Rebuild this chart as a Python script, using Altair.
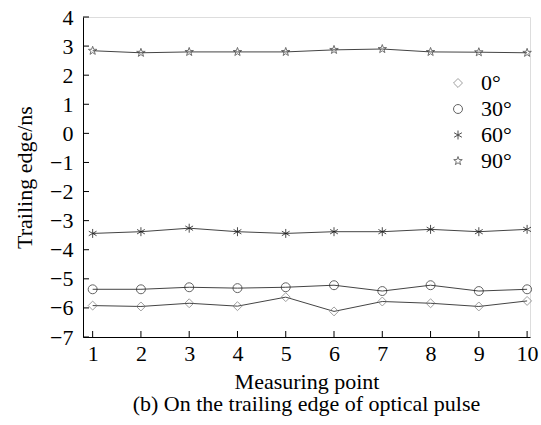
import altair as alt
import pandas as pd

points = list(range(1, 11))
series_names = ["0°", "30°", "60°", "90°"]
v0 = [-5.92, -5.95, -5.84, -5.94, -5.63, -6.12, -5.78, -5.84, -5.95, -5.76]
v30 = [-5.36, -5.36, -5.29, -5.32, -5.29, -5.22, -5.42, -5.22, -5.42, -5.36]
v60 = [-3.44, -3.38, -3.26, -3.38, -3.44, -3.38, -3.38, -3.30, -3.38, -3.30]
v90 = [2.84, 2.77, 2.80, 2.80, 2.80, 2.87, 2.90, 2.80, 2.79, 2.77]
y_ticks = list(range(-7, 5))
x_ticks = list(range(1, 11))

rows = []
for name, vals in zip(series_names, [v0, v30, v60, v90]):
    for p, v in zip(points, vals):
        rows.append({"point": p, "value": v, "series": name})
df = pd.DataFrame(rows)

STAR = ("M0,-1L0.235,-0.324L0.951,-0.309L0.380,0.124L0.588,0.809L0,0.4"
        "L-0.588,0.809L-0.380,0.124L-0.951,-0.309L-0.235,-0.324Z")
AST = "M0,-1L0,1M-0.87,-0.5L0.87,0.5M-0.87,0.5L0.87,-0.5"

FONT = "Liberation Serif, Times New Roman, serif"
FS = 22
W, H = 447, 320
xs = alt.Scale(domain=[0.8, 10.06], nice=False, zero=False)
ys = alt.Scale(domain=[-7, 4], nice=False, zero=False)

ax_x = alt.Axis(values=x_ticks, ticks=False, grid=False, domainColor="black",
                labelFont=FONT, labelFontSize=FS, labelColor="black",
                labelOverlap=False, labelFlush=False,
                labelPadding=6, title="Measuring point", titleFont=FONT,
                titleFontSize=FS, titleFontWeight="normal", titleColor="black",
                titlePadding=7)
ax_y = alt.Axis(values=y_ticks, ticks=False, grid=False, domainColor="black",
                labelFont=FONT, labelFontSize=FS, labelColor="black",
                labelOverlap=False, labelFlush=False,
                labelPadding=10, title="Trailing edge/ns", titleFont=FONT,
                titleFontSize=FS, titleFontWeight="normal", titleColor="black",
                titlePadding=13)

base = alt.Chart(df)

lines = base.mark_line(color="#444", strokeWidth=1).encode(
    x=alt.X("point:Q", scale=xs, axis=ax_x),
    y=alt.Y("value:Q", scale=ys, axis=ax_y),
    detail="series:N",
)

leg = alt.Legend(title=None, orient="none", legendX=364, legendY=55,
                 labelFont=FONT, labelFontSize=FS, labelColor="black",
                 rowPadding=4, symbolStrokeWidth=1, labelOffset=12,
                 symbolSize=50)

pts = base.mark_point(filled=False, strokeWidth=1).encode(
    x=alt.X("point:Q", scale=xs, axis=ax_x),
    y=alt.Y("value:Q", scale=ys, axis=ax_y),
    shape=alt.Shape("series:N", sort=series_names,
                    scale=alt.Scale(domain=series_names, range=["diamond", "circle", AST, STAR]),
                    legend=leg),
    color=alt.Color("series:N", sort=series_names,
                    scale=alt.Scale(domain=series_names, range=["#777777", "#222222", "#000000", "#333333"]),
                    legend=leg),
    size=alt.Size("series:N", scale=alt.Scale(domain=series_names, range=[80, 80, 60, 80]), legend=None),
)

ytick_df = pd.DataFrame({"v": y_ticks})
xtick_df = pd.DataFrame({"v": x_ticks})
yt = alt.Chart(ytick_df).mark_rule(color="black", strokeWidth=1).encode(
    y=alt.Y("v:Q", scale=ys, axis=ax_y), x=alt.value(0), x2=alt.value(6))
xt = alt.Chart(xtick_df).mark_rule(color="black", strokeWidth=1).encode(
    x=alt.X("v:Q", scale=xs, axis=ax_x), y=alt.value(H), y2=alt.value(H - 6))

chart = alt.layer(lines, pts, yt, xt).properties(
    width=W, height=H,
    autosize=alt.AutoSizeParams(type="none"),
    padding={"left": 83, "top": 17, "right": 11, "bottom": 88},
    title=alt.TitleParams("(b) On the trailing edge of optical pulse", orient="bottom",
                          anchor="middle", font=FONT, fontSize=FS, fontWeight="normal",
                          color="black", offset=2),
).configure_view(stroke=None).configure(background="white").configure_axis(labelOverlap=False)

chart.save("out.html", embed_options={"renderer": "svg", "actions": False})
